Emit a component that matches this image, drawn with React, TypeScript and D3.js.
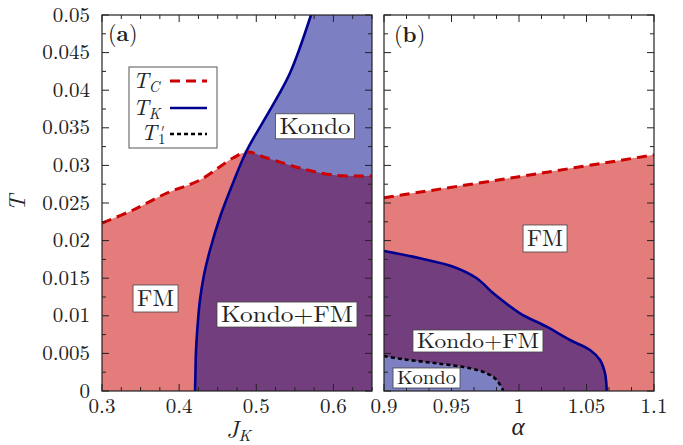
import React from 'react';
import * as d3 from 'd3';

// panel (a): T vs J_K
const tcA: [number, number][] = [
  [0.3, 0.02234], [0.3402, 0.02407], [0.3843, 0.02633], [0.427, 0.02806],
  [0.4698, 0.03098], [0.488, 0.03178], [0.5139, 0.03098], [0.5567, 0.02965],
  [0.5995, 0.02872], [0.6435, 0.02859], [0.65, 0.02859],
];
const tkA: [number, number][] = [
  [0.4206, 0], [0.4212, 0.00279], [0.4219, 0.00545], [0.4245, 0.00944],
  [0.427, 0.0121], [0.4322, 0.01543], [0.44, 0.01875], [0.453, 0.02314],
  [0.4698, 0.02766], [0.488, 0.03205], [0.5178, 0.03737], [0.5437, 0.04229],
  [0.5709, 0.05],
];

// panel (b): T vs alpha
const tcB: [number, number][] = [[0.9, 0.0257], [1.0, 0.0285], [1.1, 0.0314]];
const tkB: [number, number][] = [
  [0.9, 0.01862], [0.9267, 0.01765], [0.9513, 0.01653], [0.9687, 0.01499],
  [0.981, 0.01299], [1.0007, 0.01033], [1.0205, 0.00855], [1.0378, 0.00678],
  [1.0526, 0.00545], [1.06, 0.00412], [1.0637, 0.00235], [1.065, 0],
];
const t1B: [number, number][] = [
  [0.9, 0.00465], [0.9143, 0.00422], [0.939, 0.00368], [0.9637, 0.00302],
  [0.9761, 0.00235], [0.9835, 0.00146], [0.9884, 0],
];

const xTicksA = [0.3, 0.4, 0.5, 0.6];
const xTicksB = [0.9, 0.95, 1, 1.05, 1.1];
const yTicks = [0, 0.005, 0.01, 0.015, 0.02, 0.025, 0.03, 0.035, 0.04, 0.045, 0.05];

const FM_COL = '#e47c7c';
const KFM_COL = '#733e7e';
const K_COL = '#7c7fc1';
const TC_COL = '#cc0000';
const TK_COL = '#000090';
const FONT = 'Latin Modern Roman';
const INK = '#222';

const y = d3.scaleLinear().domain([0, 0.05]).range([391, 15]);
const xA = d3.scaleLinear().domain([0.3, 0.65]).range([102, 372]);
const xB = d3.scaleLinear().domain([0.9, 1.1]).range([384, 654]);

const fmt = (v: number) => String(+v.toFixed(4));

function Frame({ x, major, minorStep, yLabels }: any) {
  const [x0, x1] = x.range();
  const [y0, y1] = y.range();
  const [d0, d1] = x.domain();
  const xMinor = d3.range(d0, d1 + 1e-9, minorStep);
  const yMinor = d3.range(0, 0.05 + 1e-9, 0.0025);
  return (
    <g>
      {xMinor.map((v: number, i: number) => {
        const big = major.some((m: number) => Math.abs(m - v) < 1e-6);
        const l = big ? 7 : 4;
        return (
          <g key={'x' + i}>
            <line x1={x(v)} x2={x(v)} y1={y0} y2={y0 - l} stroke={INK} />
            <line x1={x(v)} x2={x(v)} y1={y1} y2={y1 + l} stroke={INK} />
          </g>
        );
      })}
      {yMinor.map((v: number, i: number) => {
        const l = i % 2 === 0 ? 7 : 4;
        return (
          <g key={'y' + i}>
            <line x1={x0} x2={x0 + l} y1={y(v)} y2={y(v)} stroke={INK} />
            <line x1={x1} x2={x1 - l} y1={y(v)} y2={y(v)} stroke={INK} />
          </g>
        );
      })}
      <rect x={x0} y={y1} width={x1 - x0} height={y0 - y1} fill="none" stroke={INK} strokeWidth={1.2} />
      {major.map((v: number) => (
        <text key={'xl' + v} x={x(v)} y={413} textAnchor="middle" fontSize={21} fill={INK} fontFamily={FONT}>
          {fmt(v)}
        </text>
      ))}
      {yLabels &&
        yTicks.map((v) => (
          <text key={'yl' + v} x={90} y={y(v) + 6.5} textAnchor="end" fontSize={21} fill={INK} fontFamily={FONT}>
            {fmt(v)}
          </text>
        ))}
    </g>
  );
}

function Label({ x, cx, cy, w, h, text, size }: any) {
  const px = x(cx);
  const py = y(cy);
  return (
    <g>
      <rect x={px - w / 2} y={py - h / 2} width={w} height={h} fill="white" stroke="#444" strokeWidth={0.8} />
      <text x={px} y={py + size * 0.34} textAnchor="middle" fontSize={size} fill={INK} fontFamily={FONT}
        textLength={w - 8} lengthAdjust="spacingAndGlyphs">
        {text}
      </text>
    </g>
  );
}

export default function App() {
  const smooth = d3.curveCatmullRom.alpha(0.5);
  const lineA = d3.line<[number, number]>().x((d) => xA(d[0])).y((d) => y(d[1])).curve(smooth);
  const lineB = d3.line<[number, number]>().x((d) => xB(d[0])).y((d) => y(d[1])).curve(smooth);
  const areaA = d3.area<[number, number]>().x((d) => xA(d[0])).y0(y(0)).y1((d) => y(d[1])).curve(smooth);
  const areaB = d3.area<[number, number]>().x((d) => xB(d[0])).y0(y(0)).y1((d) => y(d[1])).curve(smooth);

  // region right of T_K in (a), regions under T_K and T1' in (b)
  const rightOfTk = lineA(tkA) + `L${xA(0.65)},${y(0.05)}L${xA(0.65)},${y(0)}Z`;
  const underTkB = lineB(tkB) + `L${xB(0.9)},${y(0)}Z`;
  const underT1B = lineB(t1B) + `L${xB(0.9)},${y(0)}Z`;

  return (
    <svg width={683} height={445} style={{ position: 'absolute', left: 0, top: 0 }}>
      <defs>
        <clipPath id="clipA">
          <rect x={102} y={15} width={270} height={376} />
        </clipPath>
        <clipPath id="clipB">
          <rect x={384} y={15} width={270} height={376} />
        </clipPath>
        <clipPath id="underTcA">
          <path d={areaA(tcA) as string} />
        </clipPath>
      </defs>
      <rect width={683} height={445} fill="white" />

      {/* panel (a) */}
      <g clipPath="url(#clipA)">
        <path d={areaA(tcA) as string} fill={FM_COL} />
        <path d={rightOfTk} fill={K_COL} />
        <g clipPath="url(#underTcA)">
          <path d={rightOfTk} fill={KFM_COL} />
        </g>
        <path d={lineA(tcA) as string} fill="none" stroke={TC_COL} strokeWidth={3} strokeDasharray="10,6" />
        <path d={lineA(tkA) as string} fill="none" stroke={TK_COL} strokeWidth={2.6} />
      </g>
      <Frame x={xA} major={xTicksA} minorStep={0.025} yLabels={true} />

      {/* panel (b) */}
      <g clipPath="url(#clipB)">
        <path d={areaB(tcB) as string} fill={FM_COL} />
        <path d={underTkB} fill={KFM_COL} />
        <path d={underT1B} fill={K_COL} />
        <path d={lineB(tcB) as string} fill="none" stroke={TC_COL} strokeWidth={3} strokeDasharray="10,6" />
        <path d={lineB(tkB) as string} fill="none" stroke={TK_COL} strokeWidth={2.6} />
        <path d={lineB(t1B) as string} fill="none" stroke="#000" strokeWidth={2.6} strokeDasharray="4,3" />
      </g>
      <Frame x={xB} major={xTicksB} minorStep={0.05 / 3} yLabels={false} />

      {/* region labels */}
      <Label x={xA} cx={0.576} cy={0.0352} w={79} h={25} text="Kondo" size={23} />
      <Label x={xA} cx={0.3694} cy={0.0123} w={45} h={27} text="FM" size={23} />
      <Label x={xA} cx={0.5398} cy={0.01017} w={140} h={25} text="Kondo+FM" size={23} />
      <Label x={xB} cx={1.0193} cy={0.02028} w={44} h={27} text="FM" size={23} />
      <Label x={xB} cx={0.9696} cy={0.00665} w={130} h={22} text="Kondo+FM" size={21} />
      <Label x={xB} cx={0.9315} cy={0.00173} w={67} h={20} text="Kondo" size={19} />

      {/* panel tags */}
      <text x={108} y={41} fontSize={22} fill={INK} fontFamily={FONT}>(<tspan fontWeight="bold">a</tspan>)</text>
      <text x={394} y={42} fontSize={22} fill={INK} fontFamily={FONT}>(<tspan fontWeight="bold">b</tspan>)</text>

      {/* legend */}
      <rect x={129} y={67} width={88} height={81} fill="white" stroke="#555" strokeWidth={1} />
      <text x={133} y={88} fontSize={22} fontStyle="italic" fill={INK} fontFamily={FONT}>
        T<tspan fontSize={15} dy={4}>C</tspan>
      </text>
      <line x1={170} x2={207} y1={81} y2={81} stroke={TC_COL} strokeWidth={3} strokeDasharray="10,6" />
      <text x={133} y={115} fontSize={22} fontStyle="italic" fill={INK} fontFamily={FONT}>
        T<tspan fontSize={15} dy={4}>K</tspan>
      </text>
      <line x1={170} x2={207} y1={108} y2={108} stroke={TK_COL} strokeWidth={2.6} />
      <text x={141} y={140} fontSize={22} fontStyle="italic" fill={INK} fontFamily={FONT}>
        T<tspan fontSize={17} dx={1} dy={-2}>'</tspan>
        <tspan fontSize={15} fontStyle="normal" dx={-5} dy={6}>1</tspan>
      </text>
      <line x1={170} x2={207} y1={134} y2={134} stroke="#000" strokeWidth={2.6} strokeDasharray="4,3" />

      {/* axis titles */}
      <text x={226} y={438} fontSize={24} fontStyle="italic" fill={INK} fontFamily={FONT}>
        J<tspan fontSize={16} dy={3}>K</tspan>
      </text>
      <text x={518} y={435} textAnchor="middle" fontSize={25} fontStyle="italic" fill={INK} fontFamily={FONT}>α</text>
      <text transform="translate(25,203) rotate(-90)" textAnchor="middle" fontSize={23} fontStyle="italic" fill={INK} fontFamily={FONT}>T</text>
    </svg>
  );
}
